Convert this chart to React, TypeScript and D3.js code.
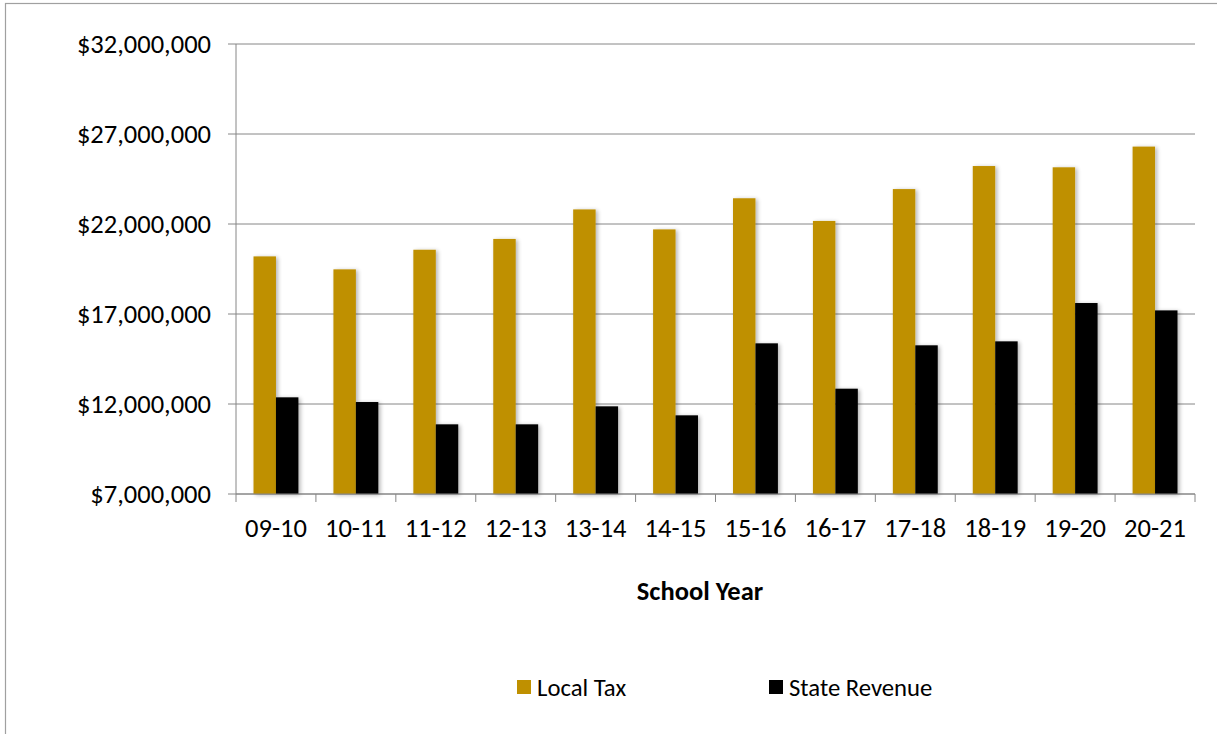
import React from "react";
import * as d3 from "d3";

const categories = ["09-10", "10-11", "11-12", "12-13", "13-14", "14-15", "15-16", "16-17", "17-18", "18-19", "19-20", "20-21"];
const localTax = [20200000, 19480000, 20570000, 21170000, 22810000, 21700000, 23430000, 22170000, 23940000, 25220000, 25150000, 26300000];
const stateRevenue = [12370000, 12110000, 10870000, 10870000, 11870000, 11370000, 15370000, 12850000, 15260000, 15480000, 17610000, 17200000];
const yTicks = [7000000, 12000000, 17000000, 22000000, 27000000, 32000000];
const seriesNames = ["Local Tax", "State Revenue"];
const seriesColors = ["#BF9000", "#000000"];

const W = 1217;
const H = 734;
const plot = { left: 236, right: 1195, top: 44, bottom: 494 };
const FONT = "Carlito, Calibri, Lato, 'Open Sans', sans-serif";

export default function App() {
  const x = d3.scaleBand<string>().domain(categories).range([plot.left, plot.right]).paddingInner(0).paddingOuter(0);
  const inner = d3.scaleBand<string>().domain(seriesNames).range([0, x.bandwidth()]).paddingInner(0).paddingOuter(0.78);
  const y = d3.scaleLinear().domain([7000000, 32000000]).range([plot.bottom, plot.top]);
  const fmt = (v: number) => "$" + d3.format(",")(v);
  const series = [localTax, stateRevenue];

  return (
    <svg width={W} height={H} style={{ position: "absolute", left: 0, top: 0, background: "#fff" }} fontFamily={FONT}>
      <defs>
        <filter id="sh" x="-30%" y="-10%" width="160%" height="120%">
          <feGaussianBlur in="SourceAlpha" stdDeviation="2" />
          <feOffset dx="2" dy="1" result="b" />
          <feComponentTransfer><feFuncA type="linear" slope="0.3" /></feComponentTransfer>
          <feMerge><feMergeNode /><feMergeNode in="SourceGraphic" /></feMerge>
        </filter>
      </defs>
      <rect x={5.5} y={3.5} width={W + 10} height={H + 10} fill="#fff" stroke="#A0A0A0" strokeWidth={1.2} />
      {yTicks.map((t) => (
        <g key={t}>
          <line x1={plot.left - 8} x2={plot.right} y1={y(t)} y2={y(t)} stroke="#868686" strokeWidth={1} />
          <text x={211} y={y(t)} dy="0.35em" textAnchor="end" fontSize={26.5} fill="#000">{fmt(t)}</text>
        </g>
      ))}
      <line x1={plot.left} x2={plot.left} y1={plot.top} y2={plot.bottom} stroke="#868686" strokeWidth={1} />
      {categories.map((c, i) => (
        <g key={c}>
          {series.map((s, k) => (
            <rect key={k} x={(x(c) as number) + (inner(seriesNames[k]) as number)} y={y(s[i])} width={inner.bandwidth()} height={plot.bottom - y(s[i])} fill={seriesColors[k]} filter="url(#sh)" />
          ))}
        </g>
      ))}
      <line x1={plot.left} x2={plot.right} y1={plot.bottom} y2={plot.bottom} stroke="#868686" strokeWidth={1} />
      {categories.concat([""]).map((c, i) => {
        const xx = plot.left + i * x.step();
        return <line key={"t" + i} x1={xx} x2={xx} y1={plot.bottom} y2={plot.bottom + 8} stroke="#868686" strokeWidth={1} />;
      })}
      {categories.map((c) => (
        <text key={"l" + c} x={(x(c) as number) + x.bandwidth() / 2} y={528} dy="0.35em" textAnchor="middle" fontSize={26.5} fill="#000">{c}</text>
      ))}
      <text x={700} y={591} dy="0.35em" textAnchor="middle" fontSize={26.5} fontWeight="bold" fill="#000">School Year</text>
      <g>
        <rect x={517} y={680} width={14} height={14} fill={seriesColors[0]} />
        <text x={537} y={687} dy="0.35em" fontSize={24.7} fill="#000">{seriesNames[0]}</text>
        <rect x={769} y={680} width={14} height={14} fill={seriesColors[1]} />
        <text x={789} y={687} dy="0.35em" fontSize={24.7} fill="#000">{seriesNames[1]}</text>
      </g>
    </svg>
  );
}
